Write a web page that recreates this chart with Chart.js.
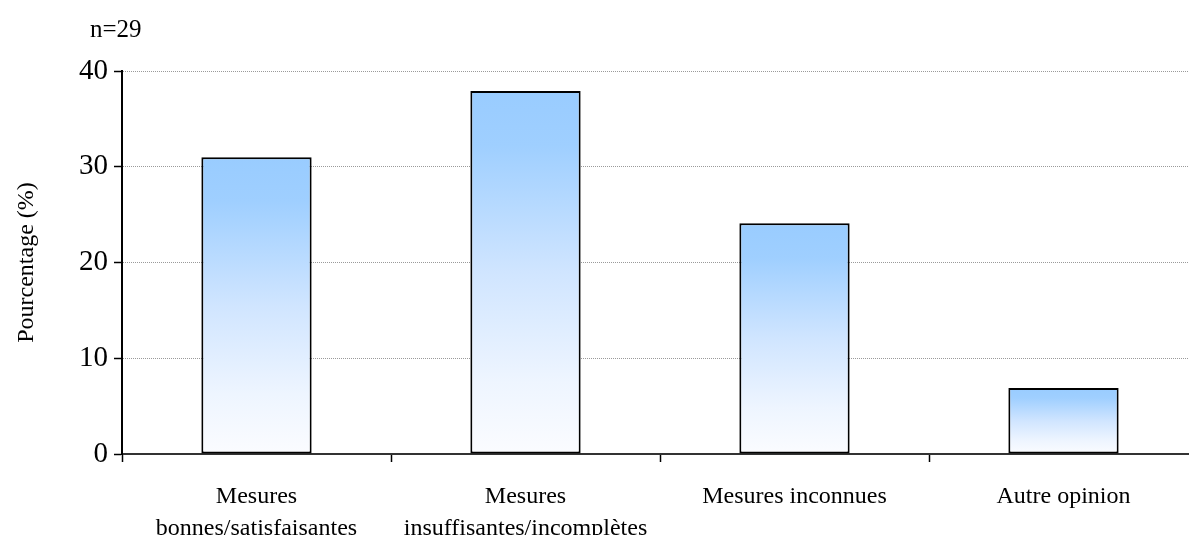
<!DOCTYPE html>
<html>
<head>
<meta charset="utf-8">
<script src="https://cdn.jsdelivr.net/npm/chart.js@4.4.0/dist/chart.umd.min.js"></script>
<style>
  html, body { margin: 0; padding: 0; background: #fff; overflow: hidden; }
  #wrap { position: relative; width: 1200px; height: 535px; }
  #note { position: absolute; left: 90px; top: 15px; font: 25px "Liberation Serif", "Times New Roman", serif; color: #000; }
</style>
</head>
<body>
<div id="wrap">
  <div id="note">n=29</div>
  <canvas id="myChart" width="1200" height="535"></canvas>
</div>
<script>
  // réponses (n=29), en %
  let categories = [
    ['Mesures', 'bonnes/satisfaisantes'],
    ['Mesures', 'insuffisantes/incomplètes'],
    'Mesures inconnues',
    'Autre opinion'
  ]
  let percentages = [31.0, 37.9, 24.1, 6.9]
  let yMax = 40
  let yStep = 10

  const serif = '"Liberation Serif", "Times New Roman", serif'

  // dégradé bleu -> blanc, calculé pour chaque barre
  function barFill(context) {
    const chart = context.chart
    const y = chart.scales.y
    if (!chart.chartArea || !y) return '#cfe5ff'
    const top = y.getPixelForValue(context.raw)
    const bottom = y.getPixelForValue(0)
    const g = chart.ctx.createLinearGradient(0, top, 0, bottom)
    g.addColorStop(0, '#99ccff')
    g.addColorStop(0.15, '#9fcfff')
    g.addColorStop(0.5, '#d0e5ff')
    g.addColorStop(0.8, '#eef5ff')
    g.addColorStop(1, '#fbfcff')
    return g
  }

  var chartArea = document.getElementById('myChart').getContext('2d')
  var myChart = new Chart(chartArea, {
    type: 'bar',
    data: {
      labels: categories,
      datasets: [{
        label: 'Pourcentage',
        data: percentages,
        backgroundColor: barFill,
        borderColor: '#000',
        borderWidth: 2,
        borderSkipped: false,
        barPercentage: 0.82,
        categoryPercentage: 0.5
      }]
    },
    options: {
      responsive: false,
      animation: false,
      layout: { padding: { top: 71, right: 2, left: 0, bottom: 0 } },
      scales: {
        x: {
          offset: true,
          afterFit: function (scale) { scale.height = 81 },
          grid: {
            offset: true,
            drawOnChartArea: false,
            drawTicks: true,
            tickLength: 8,
            tickColor: '#000',
            tickWidth: 1.5
          },
          border: { display: true, color: '#333', width: 2 },
          ticks: {
            color: '#000',
            padding: 19,
            maxRotation: 0,
            autoSkip: false,
            font: { family: serif, size: 24, lineHeight: 1.33 }
          }
        },
        y: {
          min: 0,
          max: yMax,
          afterFit: function (scale) { scale.width = 122 },
          ticks: {
            stepSize: yStep,
            color: '#000',
            padding: 6,
            font: { family: serif, size: 29 }
          },
          grid: {
            color: '#9a9a9a',
            lineWidth: 1,
            tickColor: '#000',
            tickWidth: 1.5,
            tickLength: 8
          },
          border: { display: true, color: '#000', width: 2, dash: [1, 1] },
          title: {
            display: true,
            text: 'Pourcentage (%)',
            color: '#000',
            padding: { top: 12, bottom: 0 },
            font: { family: serif, size: 24 }
          }
        }
      },
      plugins: {
        legend: { display: false },
        tooltip: { enabled: false }
      }
    }
  })
</script>
</body>
</html>
